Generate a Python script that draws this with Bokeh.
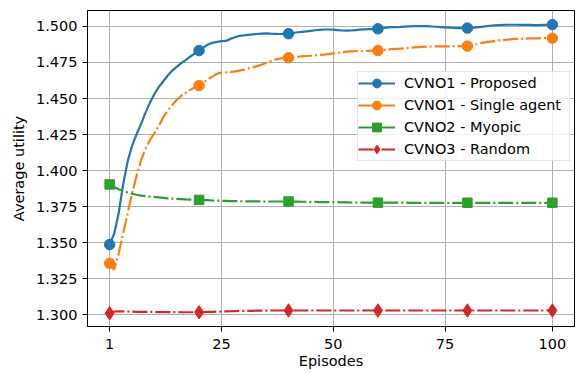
from bokeh.plotting import figure
from bokeh.models import Range1d, FixedTicker, Legend, LegendItem
from bokeh.embed import file_html
from bokeh.resources import INLINE

# ---------------- data ----------------
episode_idx = list(range(100))  # episode index 0..99 -> episodes 1..100
marker_idx = [0, 20, 40, 60, 80, 99]

x_tick_pos = [0, 25, 50, 75, 99]
x_tick_labels = ["1", "25", "50", "75", "100"]
y_ticks = [1.300, 1.325, 1.350, 1.375, 1.400, 1.425, 1.450, 1.475, 1.500]
y_tick_labels = ["1.300", "1.325", "1.350", "1.375", "1.400", "1.425", "1.450", "1.475", "1.500"]

series_names = ["CVNO1 - Proposed", "CVNO1 - Single agent", "CVNO2 - Myopic", "CVNO3 - Random"]

proposed = [
    1.3486, 1.3560, 1.3700, 1.3900, 1.4060, 1.4170, 1.4250, 1.4320, 1.4400, 1.4470,
    1.4530, 1.4580, 1.4620, 1.4660, 1.4694, 1.4720, 1.4745, 1.4766, 1.4790, 1.4812,
    1.4833, 1.4855, 1.4875, 1.4886, 1.4893, 1.4898, 1.4900, 1.4914, 1.4925, 1.4935,
    1.4938, 1.4942, 1.4945, 1.4948, 1.4950, 1.4952, 1.4950, 1.4949, 1.4948, 1.4949,
    1.4950, 1.4955, 1.4960, 1.4963, 1.4966, 1.4970, 1.4974, 1.4977, 1.4979, 1.4979,
    1.4978, 1.4975, 1.4972, 1.4971, 1.4972, 1.4975, 1.4978, 1.4980, 1.4981, 1.4982,
    1.4984, 1.4988, 1.4992, 1.4995, 1.4996, 1.4997, 1.4999, 1.5001, 1.5002, 1.5003,
    1.5003, 1.5002, 1.5000, 1.4998, 1.4996, 1.4994, 1.4992, 1.4990, 1.4989, 1.4989,
    1.4989, 1.4991, 1.4994, 1.4997, 1.5001, 1.5005, 1.5008, 1.5010, 1.5011, 1.5012,
    1.5012, 1.5012, 1.5011, 1.5011, 1.5011, 1.5010, 1.5010, 1.5011, 1.5012, 1.5013,
]

single_agent = [
    1.3356, 1.3310, 1.3420, 1.3560, 1.3700, 1.3838, 1.3960, 1.4070, 1.4150, 1.4210,
    1.4260, 1.4310, 1.4370, 1.4417, 1.4455, 1.4490, 1.4518, 1.4540, 1.4560, 1.4576,
    1.4590, 1.4612, 1.4635, 1.4652, 1.4672, 1.4680, 1.4682, 1.4683, 1.4688, 1.4694,
    1.4700, 1.4708, 1.4716, 1.4725, 1.4735, 1.4748, 1.4760, 1.4770, 1.4777, 1.4781,
    1.4783, 1.4786, 1.4790, 1.4793, 1.4795, 1.4797, 1.4800, 1.4802, 1.4805, 1.4809,
    1.4813, 1.4817, 1.4821, 1.4825, 1.4827, 1.4828, 1.4829, 1.4830, 1.4831, 1.4832,
    1.4833, 1.4836, 1.4840, 1.4843, 1.4845, 1.4846, 1.4849, 1.4852, 1.4855, 1.4857,
    1.4859, 1.4860, 1.4861, 1.4862, 1.4862, 1.4862, 1.4862, 1.4863, 1.4863, 1.4863,
    1.4864, 1.4870, 1.4877, 1.4884, 1.4890, 1.4895, 1.4899, 1.4903, 1.4906, 1.4909,
    1.4912, 1.4914, 1.4915, 1.4916, 1.4917, 1.4918, 1.4918, 1.4919, 1.4919, 1.4919,
]

myopic = [
    1.3903, 1.3885, 1.3870, 1.3860, 1.3848, 1.3839, 1.3832, 1.3826, 1.3822, 1.3819,
    1.3816, 1.3813, 1.3810, 1.3807, 1.3805, 1.3803, 1.3801, 1.3799, 1.3798, 1.3797,
    1.3796, 1.3795, 1.3794, 1.3792, 1.3791, 1.3790, 1.3789, 1.3788, 1.3787, 1.3787,
    1.3786, 1.3786, 1.3786, 1.3786, 1.3785, 1.3785, 1.3785, 1.3785, 1.3785, 1.3785,
    1.3785, 1.3784, 1.3784, 1.3783, 1.3783, 1.3782, 1.3782, 1.3781, 1.3781, 1.3781,
    1.3780, 1.3780, 1.3779, 1.3779, 1.3778, 1.3778, 1.3778, 1.3777, 1.3777, 1.3777,
    1.3777, 1.3777, 1.3777, 1.3777, 1.3777, 1.3777, 1.3777, 1.3776, 1.3776, 1.3776,
    1.3776, 1.3776, 1.3776, 1.3776, 1.3776, 1.3776, 1.3776, 1.3776, 1.3776, 1.3776,
    1.3776, 1.3776, 1.3776, 1.3776, 1.3776, 1.3776, 1.3776, 1.3776, 1.3776, 1.3776,
    1.3776, 1.3776, 1.3776, 1.3776, 1.3776, 1.3776, 1.3776, 1.3776, 1.3776, 1.3776,
]

random_policy = [
    1.3009, 1.3020, 1.3023, 1.3022, 1.3021, 1.3020, 1.3019, 1.3019, 1.3018, 1.3018,
    1.3018, 1.3017, 1.3017, 1.3017, 1.3017, 1.3017, 1.3016, 1.3016, 1.3016, 1.3016,
    1.3016, 1.3017, 1.3018, 1.3019, 1.3020, 1.3021, 1.3022, 1.3023, 1.3024, 1.3025,
    1.3025, 1.3026, 1.3026, 1.3027, 1.3027, 1.3027, 1.3028, 1.3028, 1.3028, 1.3028,
    1.3028, 1.3028, 1.3028, 1.3028, 1.3028, 1.3028, 1.3028, 1.3028, 1.3028, 1.3028,
    1.3028, 1.3028, 1.3028, 1.3028, 1.3028, 1.3028, 1.3028, 1.3028, 1.3028, 1.3028,
    1.3028, 1.3028, 1.3028, 1.3028, 1.3028, 1.3028, 1.3028, 1.3028, 1.3028, 1.3028,
    1.3028, 1.3028, 1.3028, 1.3028, 1.3028, 1.3028, 1.3028, 1.3028, 1.3028, 1.3028,
    1.3028, 1.3028, 1.3028, 1.3028, 1.3028, 1.3028, 1.3028, 1.3028, 1.3028, 1.3028,
    1.3028, 1.3028, 1.3028, 1.3028, 1.3028, 1.3028, 1.3028, 1.3028, 1.3028, 1.3028,
]

# ---------------- styles ----------------
FONT = "DejaVu Sans"
FS = "14.5px"
colors = ["#1f77b4", "#ff7f0e", "#2ca02c", "#d62728"]
dashes = ["solid", "15 3 2 3", "15 3 2 3", "15 3 2 3"]
markers = ["circle", "circle", "square", "diamond"]
msizes = [10.5, 10.5, 9.5, 13.5]

p = figure(
    width=579, height=373,
    output_backend="svg", toolbar_location=None,
    x_range=Range1d(-4.95, 103.95), y_range=Range1d(1.2917, 1.5111),
    min_border_left=87, min_border_right=5, min_border_top=10, min_border_bottom=47,
)
p.background_fill_color = "white"
p.border_fill_color = "white"
p.outline_line_color = "black"
p.outline_line_width = 1

# axes
p.xaxis.ticker = FixedTicker(ticks=x_tick_pos)
p.xaxis.major_label_overrides = dict(zip(x_tick_pos, x_tick_labels))
p.yaxis.ticker = FixedTicker(ticks=y_ticks)
p.yaxis.major_label_overrides = dict(zip(y_ticks, y_tick_labels))
p.xaxis.axis_label = "Episodes"
p.yaxis.axis_label = "Average utility"
for ax in (p.xaxis, p.yaxis):
    ax.axis_label_text_font = FONT
    ax.axis_label_text_font_size = FS
    ax.axis_label_text_font_style = "normal"
    ax.axis_label_text_color = "black"
    ax.major_label_text_font = FONT
    ax.major_label_text_font_size = FS
    ax.major_label_text_color = "black"
    ax.axis_line_color = "black"
    ax.major_tick_line_color = "black"
    ax.major_tick_in = 0
    ax.major_tick_out = 5
    ax.minor_tick_line_color = None
p.xaxis.major_label_standoff = 7
p.xaxis.axis_label_standoff = 1
p.yaxis.major_label_standoff = 5
p.yaxis.axis_label_standoff = 6

p.xgrid.ticker = FixedTicker(ticks=x_tick_pos)
p.ygrid.ticker = FixedTicker(ticks=y_ticks)
for g in (p.xgrid, p.ygrid):
    g.grid_line_color = "#b0b0b0"
    g.grid_line_width = 1

all_series = [proposed, single_agent, myopic, random_policy]
items = []
for name, ys, c, d, m, ms in zip(series_names, all_series, colors, dashes, markers, msizes):
    r_line = p.line(episode_idx, ys, line_color=c, line_width=2.2, line_dash=d)
    r_mark = p.scatter([episode_idx[i] for i in marker_idx], [ys[i] for i in marker_idx],
                       marker=m, size=ms, fill_color=c, line_color=c, line_width=1)
    items.append(LegendItem(label=name, renderers=[r_line, r_mark]))

legend = Legend(
    items=items, location=(270, 165), margin=0, padding=0,
    spacing=0, glyph_width=37, glyph_height=22, label_height=18,
    label_standoff=9, label_width=165,
    label_text_font=FONT, label_text_font_size=FS, label_text_color="black",
    border_line_color="#cccccc", border_line_width=1,
    background_fill_color="white", background_fill_alpha=0.8,
)
p.add_layout(legend, "center")

open("out.html", "w").write(file_html(p, INLINE))
